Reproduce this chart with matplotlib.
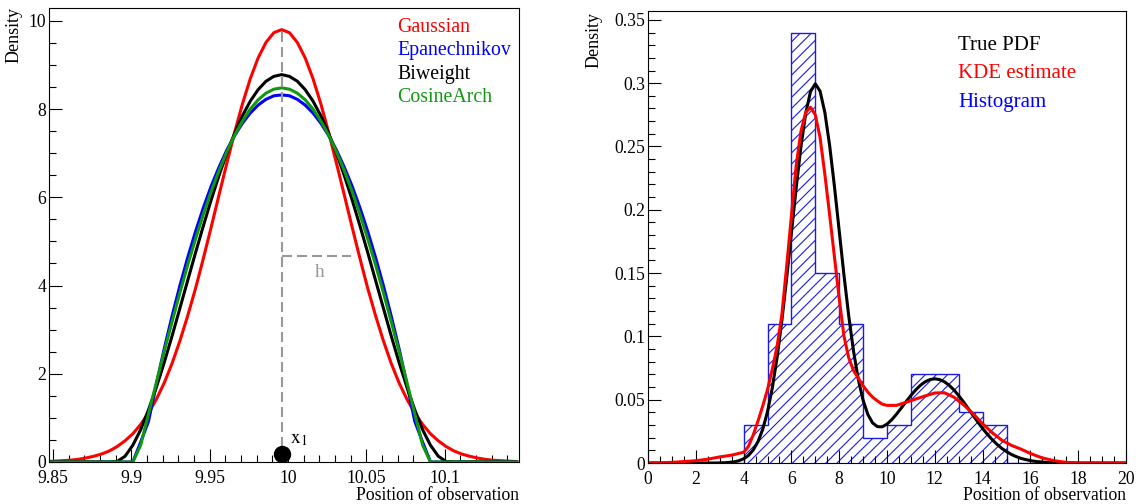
import matplotlib
matplotlib.use("Agg")
import matplotlib.pyplot as plt
from matplotlib.ticker import MultipleLocator, FixedLocator, FixedFormatter

plt.rcParams["font.family"] = ["Liberation Serif", "DejaVu Serif"]
plt.rcParams["mathtext.fontset"] = "stix"
plt.rcParams["hatch.linewidth"] = 0.8

#----------------------------- LEFT PANEL DATA --------------------------------

x1 = 9.996          # the single observation
x1_mark = 0.18      # height of the dot drawn for it
h_end = 10.04       # end of the bandwidth arrow
h_level = 4.66

kernel_x = [9.846, 9.851, 9.856, 9.861, 9.866, 9.871, 9.876, 9.881, 9.886, 9.891,
            9.896, 9.901, 9.906, 9.911, 9.916, 9.921, 9.926, 9.931, 9.936, 9.941,
            9.946, 9.951, 9.956, 9.961, 9.966, 9.971, 9.976, 9.981, 9.986, 9.991,
            9.996, 10.001, 10.006, 10.011, 10.016, 10.021, 10.026, 10.031, 10.036,
            10.041, 10.046, 10.051, 10.056, 10.061, 10.066, 10.071, 10.076, 10.081,
            10.086, 10.091, 10.096, 10.101, 10.106, 10.111, 10.116, 10.121, 10.126,
            10.131, 10.136, 10.141, 10.146]

gaussian = [0.01, 0.02, 0.03, 0.04, 0.06, 0.09, 0.13, 0.18, 0.25, 0.35, 0.48, 0.64,
            0.85, 1.11, 1.42, 1.79, 2.23, 2.74, 3.31, 3.93, 4.61, 5.32, 6.05, 6.77,
            7.47, 8.12, 8.69, 9.16, 9.51, 9.73, 9.80, 9.73, 9.51, 9.16, 8.69, 8.12,
            7.47, 6.77, 6.05, 5.32, 4.61, 3.93, 3.31, 2.74, 2.23, 1.79, 1.42, 1.11,
            0.85, 0.64, 0.48, 0.35, 0.25, 0.18, 0.13, 0.09, 0.06, 0.04, 0.03, 0.02,
            0.01]

epanechnikov = [0, 0, 0, 0, 0, 0, 0, 0, 0, 0, 0, 0, 0.45, 0.92, 1.76, 2.56, 3.30,
                3.99, 4.63, 5.22, 5.76, 6.25, 6.68, 7.07, 7.40, 7.68, 7.91, 8.09,
                8.22, 8.30, 8.32, 8.30, 8.22, 8.09, 7.91, 7.68, 7.40, 7.07, 6.68,
                6.25, 5.76, 5.22, 4.63, 3.99, 3.30, 2.56, 1.76, 0.92, 0.45, 0, 0, 0,
                0, 0, 0, 0, 0, 0, 0, 0, 0]

biweight = [0, 0, 0, 0, 0, 0, 0, 0, 0, 0.01, 0.13, 0.38, 0.73, 1.18, 1.69, 2.25,
            2.85, 3.48, 4.11, 4.74, 5.35, 5.94, 6.49, 7.00, 7.45, 7.85, 8.18, 8.44,
            8.63, 8.74, 8.78, 8.74, 8.63, 8.44, 8.18, 7.85, 7.45, 7.00, 6.49, 5.94,
            5.35, 4.74, 4.11, 3.48, 2.85, 2.25, 1.69, 1.18, 0.73, 0.38, 0.13, 0.01,
            0, 0, 0, 0, 0, 0, 0, 0, 0]

cosinearch = [0, 0, 0, 0, 0, 0, 0, 0, 0, 0, 0, 0, 0.38, 1.09, 1.80, 2.50, 3.17,
              3.83, 4.46, 5.05, 5.61, 6.13, 6.60, 7.03, 7.41, 7.73, 8.00, 8.21,
              8.36, 8.45, 8.48, 8.45, 8.36, 8.21, 8.00, 7.73, 7.41, 7.03, 6.60,
              6.13, 5.61, 5.05, 4.46, 3.83, 3.17, 2.50, 1.80, 1.09, 0.38, 0, 0, 0,
              0, 0, 0, 0, 0, 0, 0, 0, 0]

left_xticks = [9.85, 9.9, 9.95, 10, 10.05, 10.1]
left_xlabels = ["9.85", "9.9", "9.95", "10", "10.05", "10.1"]
left_yticks = [0, 2, 4, 6, 8, 10]

#----------------------------- RIGHT PANEL DATA -------------------------------

hist_edges = list(range(0, 21))
hist_vals = [0, 0, 0, 0, 0.03, 0.11, 0.34, 0.15, 0.11, 0.02,
             0.03, 0.07, 0.07, 0.04, 0.03, 0, 0, 0, 0, 0]

true_x = [round(0.2 * i, 1) for i in range(101)]
true_pdf = [0, 0, 0, 0, 0, 0, 0, 0, 0, 0, 0, 0, 0, 0, 0,
            0.0001, 0.0002, 0.0005, 0.0009, 0.0018, 0.0033, 0.0059, 0.0102,
            0.0168, 0.0266, 0.0405, 0.0592, 0.0832, 0.1123, 0.1457, 0.1815,
            0.2173, 0.2500, 0.2763, 0.2934, 0.2995, 0.2937, 0.2768, 0.2508,
            0.2186, 0.1834, 0.1483, 0.1160, 0.0883, 0.0660, 0.0495, 0.0383,
            0.0316, 0.0287, 0.0286, 0.0307, 0.0342, 0.0386, 0.0435, 0.0485,
            0.0533, 0.0577, 0.0614, 0.0642, 0.0659, 0.0665, 0.0659, 0.0642,
            0.0614, 0.0577, 0.0532, 0.0483, 0.0430, 0.0376, 0.0324, 0.0273,
            0.0227, 0.0185, 0.0148, 0.0116, 0.0090, 0.0068, 0.0051, 0.0037,
            0.0027, 0.0019, 0.0013, 0.0009, 0.0006, 0.0004, 0.0003, 0.0002,
            0.0001, 0.0001, 0, 0, 0, 0, 0, 0, 0, 0, 0, 0, 0, 0]

kde_x = [0, 1, 2, 2.5, 3, 3.5, 4.0, 4.2, 4.4, 4.6, 4.8, 5.0, 5.2, 5.4, 5.6, 5.8,
         6.0, 6.2, 6.4, 6.6, 6.8, 7.0, 7.2, 7.4, 7.6, 7.8, 8.0, 8.2, 8.4, 8.6,
         8.8, 9.0, 9.2, 9.4, 9.6, 9.8, 10.0, 10.4, 10.8, 11.2, 11.6, 12.0, 12.4,
         12.8, 13.2, 13.6, 14.0, 14.4, 14.8, 15.2, 15.6, 16.0, 16.5, 17, 17.5, 18, 20]
kde_y = [0, 0.0005, 0.0018, 0.003, 0.0048, 0.0062, 0.0085, 0.013, 0.022, 0.033,
         0.045, 0.058, 0.074, 0.092, 0.117, 0.155, 0.195, 0.235, 0.262, 0.277,
         0.281, 0.275, 0.257, 0.228, 0.196, 0.163, 0.13, 0.1, 0.083, 0.073,
         0.067, 0.061, 0.056, 0.052, 0.049, 0.0465, 0.0455, 0.0455, 0.048, 0.0505,
         0.053, 0.0553, 0.0555, 0.052, 0.046, 0.039, 0.031, 0.024, 0.018, 0.014,
         0.011, 0.0075, 0.004, 0.0018, 0.0005, 0, 0]

right_xticks = list(range(0, 21, 2))
right_yticks = [0, 0.05, 0.1, 0.15, 0.2, 0.25, 0.3, 0.35]
right_ylabels = ["0", "0.05", "0.1", "0.15", "0.2", "0.25", "0.3", "0.35"]

#-------------------------------- FIGURE --------------------------------------

W, H = 1140, 504
fig = plt.figure(figsize=(W / 100, H / 100), dpi=100)
green = "#0f990f"
grey = "#999999"

def box(l, t, r, b):
    #pixel frame -> figure fraction
    return [l / W, 1 - b / H, (r - l) / W, (b - t) / H]

def style(ax):
    for s in ("top", "right", "left", "bottom"):
        ax.spines[s].set_linewidth(0.8)
    ax.tick_params(which="both", direction="in", top=False, right=False,
                   labelsize=12.7, width=0.8)
    ax.tick_params(which="major", length=9.1)
    ax.tick_params(which="minor", length=4.8)
    ax.tick_params(axis="y", pad=2)
    ax.tick_params(axis="x", pad=5.5)

def ftext(px, py, s, **kw):
    fig.text(px / W, 1 - py / H, s, **kw)

#left: kernel shapes
ax1 = fig.add_axes(box(49, 8, 519, 462))
ax1.plot(kernel_x, gaussian, color="red", lw=2.2)
ax1.plot(kernel_x, epanechnikov, color="blue", lw=2.2)
ax1.plot(kernel_x, biweight, color="black", lw=2.2)
ax1.plot(kernel_x, cosinearch, color=green, lw=2.2)
ax1.plot([x1, x1], [0, max(gaussian)], color=grey, lw=1.5, dashes=(4.8, 2.4))
ax1.plot([x1, h_end], [h_level, h_level], color=grey, lw=1.5, dashes=(4.8, 2.4))
ax1.text((x1 + h_end) / 2 + 0.0025, h_level - 0.36, "h", color=grey, fontsize=14,
         ha="center", va="center")
ax1.plot([x1], [x1_mark], "o", color="black", ms=11.5)
ax1.text(x1 + 0.0055, 0.5, r"$\mathrm{x}_{1}$", fontsize=14, ha="left", va="center")
ax1.set_xlim(9.8475, 10.1475)
ax1.set_ylim(0, 10.29)
ax1.xaxis.set_major_locator(FixedLocator(left_xticks))
ax1.xaxis.set_major_formatter(FixedFormatter(left_xlabels))
ax1.xaxis.set_minor_locator(MultipleLocator(0.01))
ax1.yaxis.set_major_locator(FixedLocator(left_yticks))
ax1.yaxis.set_minor_locator(MultipleLocator(0.5))
style(ax1)

#right: histogram, true pdf and kde
ax2 = fig.add_axes(box(648, 11, 1126, 463))
ax2.stairs(hist_vals, hist_edges, fill=True, facecolor="none", edgecolor="#1a1ae6",
           hatch="///", lw=1.0)
ax2.plot(true_x, true_pdf, color="black", lw=2.2)
ax2.plot(kde_x, kde_y, color="red", lw=2.2)
ax2.set_xlim(0, 20)
ax2.set_ylim(0, 0.357)
ax2.xaxis.set_major_locator(FixedLocator(right_xticks))
ax2.xaxis.set_minor_locator(MultipleLocator(0.5))
ax2.yaxis.set_major_locator(FixedLocator(right_yticks))
ax2.yaxis.set_major_formatter(FixedFormatter(right_ylabels))
ax2.yaxis.set_minor_locator(MultipleLocator(0.01))
style(ax2)

#legends are plain coloured text
for i, (lab, col) in enumerate([("Gaussian", "red"), ("Epanechnikov", "blue"),
                                ("Biweight", "black"), ("CosineArch", green)]):
    ftext(397, 28 + 23 * i, lab, color=col, fontsize=14.3, ha="left", va="center")
for py, lab, col in [(45, "True PDF", "black"), (74, "KDE estimate", "red"),
                     (102, "Histogram", "blue")]:
    ftext(958, py, lab, color=col, fontsize=15, ha="left", va="center")

ftext(14, 7, "Density", rotation=90, fontsize=13, ha="center", va="top")
ftext(594, 12, "Density", rotation=90, fontsize=13, ha="center", va="top")
ftext(519, 495, "Position of observation", fontsize=12.7, ha="right", va="center")
ftext(1126, 495, "Position of observation", fontsize=12.7, ha="right", va="center")

fig.savefig("out.png", dpi=100)
